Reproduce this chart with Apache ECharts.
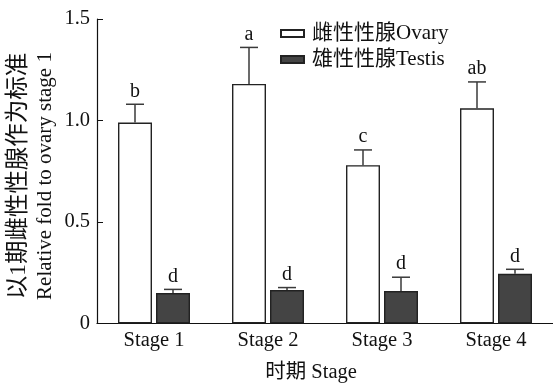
<!DOCTYPE html>
<html>
<head>
<meta charset="utf-8">
<script src="https://cdn.jsdelivr.net/npm/echarts@6/dist/echarts.min.js"></script>
<style>
html,body{margin:0;padding:0;background:#fff;}
#chart{width:553px;height:383px;}
</style>
</head>
<body>
<div id="chart"></div>
<script>
// Relative expression by gonad stage, normalised to ovary stage 1
var stages = ['Stage 1', 'Stage 2', 'Stage 3', 'Stage 4'];
var ovaryMean = [0.99, 1.18, 0.78, 1.06];
var ovaryErr = [0.09, 0.18, 0.075, 0.13];
var ovaryLetters = ['b', 'a', 'c', 'ab'];
var testisMean = [0.15, 0.165, 0.16, 0.245];
var testisErr = [0.018, 0.012, 0.068, 0.022];
var testisLetters = ['d', 'd', 'd', 'd'];

var serif = '"Liberation Serif", "Times New Roman", "Noto Sans CJK SC", serif';
var BAR_W = 34;
var GAP = 4;

function errorSeries(name, means, errs, letters, side) {
  return {
    type: 'custom',
    name: name + ' err',
    z: 5,
    silent: true,
    data: means.map(function (m, i) { return [i, m, errs[i]]; }),
    renderItem: function (params, api) {
      var idx = api.value(0);
      var top = api.value(1);
      var err = api.value(2);
      var p0 = api.coord([idx, top]);
      var p1 = api.coord([idx, top + err]);
      var x = p0[0] + side * (BAR_W + GAP) / 2;
      var half = 9;
      return {
        type: 'group',
        children: [
          { type: 'line', shape: { x1: x, y1: p0[1], x2: x, y2: p1[1] }, style: { stroke: '#3a3a3a', lineWidth: 1.5 } },
          { type: 'line', shape: { x1: x - half, y1: p1[1], x2: x + half, y2: p1[1] }, style: { stroke: '#3a3a3a', lineWidth: 1.5 } },
          { type: 'text', x: x, y: p1[1] - 3, style: { text: letters[params.dataIndex], fill: '#111', font: '20px ' + serif, align: 'center', verticalAlign: 'bottom' } }
        ]
      };
    }
  };
}

var chart = echarts.init(document.getElementById('chart'), null, { renderer: 'canvas' });
chart.setOption({
  animation: false,
  backgroundColor: '#fff',
  grid: { left: 97, right: 0, top: 19, bottom: 59.5, containLabel: false },
  legend: {
    orient: 'vertical',
    left: 275,
    top: 18,
    itemWidth: 23,
    itemHeight: 7,
    itemGap: 5,
    icon: 'rect',
    textStyle: { fontFamily: serif, fontSize: 21, color: '#111', padding: [0, 0, 0, 3] },
    data: ['雌性性腺Ovary', '雄性性腺Testis']
  },
  xAxis: {
    type: 'category',
    data: stages,
    axisLine: { lineStyle: { color: '#111', width: 1.2 } },
    axisTick: { show: false },
    axisLabel: { fontFamily: serif, fontSize: 20.5, color: '#111', margin: 7 },
    splitLine: { show: false }
  },
  yAxis: {
    type: 'value',
    min: 0,
    max: 1.5,
    interval: 0.5,
    axisLine: { show: true, lineStyle: { color: '#111', width: 1.2 } },
    axisTick: { show: true, inside: true, length: 6, lineStyle: { color: '#111' } },
    axisLabel: {
      fontFamily: serif, fontSize: 20.5, color: '#111', margin: 7,
      formatter: function (v) { return v === 0 ? '0' : v.toFixed(1); }
    },
    splitLine: { show: false }
  },
  series: [
    {
      type: 'bar',
      name: '雌性性腺Ovary',
      data: ovaryMean,
      barWidth: BAR_W,
      barGap: (GAP / BAR_W * 100) + '%',
      itemStyle: { color: '#fff', borderColor: '#222', borderWidth: 1.4 }
    },
    {
      type: 'bar',
      name: '雄性性腺Testis',
      data: testisMean,
      barWidth: BAR_W,
      itemStyle: { color: '#444', borderColor: '#222', borderWidth: 1.4 }
    },
    errorSeries('ovary', ovaryMean, ovaryErr, ovaryLetters, -1),
    errorSeries('testis', testisMean, testisErr, testisLetters, 1)
  ],
  graphic: [
    {
      type: 'text', x: 19, y: 176, rotation: Math.PI / 2,
      style: { text: '以1期雌性性腺作为标准', font: '23.5px ' + serif, fill: '#111', align: 'center', verticalAlign: 'middle' }
    },
    {
      type: 'text', x: 45, y: 176, rotation: Math.PI / 2,
      style: { text: 'Relative fold to ovary stage 1', font: '21px ' + serif, fill: '#111', align: 'center', verticalAlign: 'middle' }
    },
    {
      type: 'text', x: 311, y: 373,
      style: { text: '时期 Stage', font: '20.5px ' + serif, fill: '#111', align: 'center', verticalAlign: 'middle' }
    }
  ]
});
</script>
</body>
</html>
